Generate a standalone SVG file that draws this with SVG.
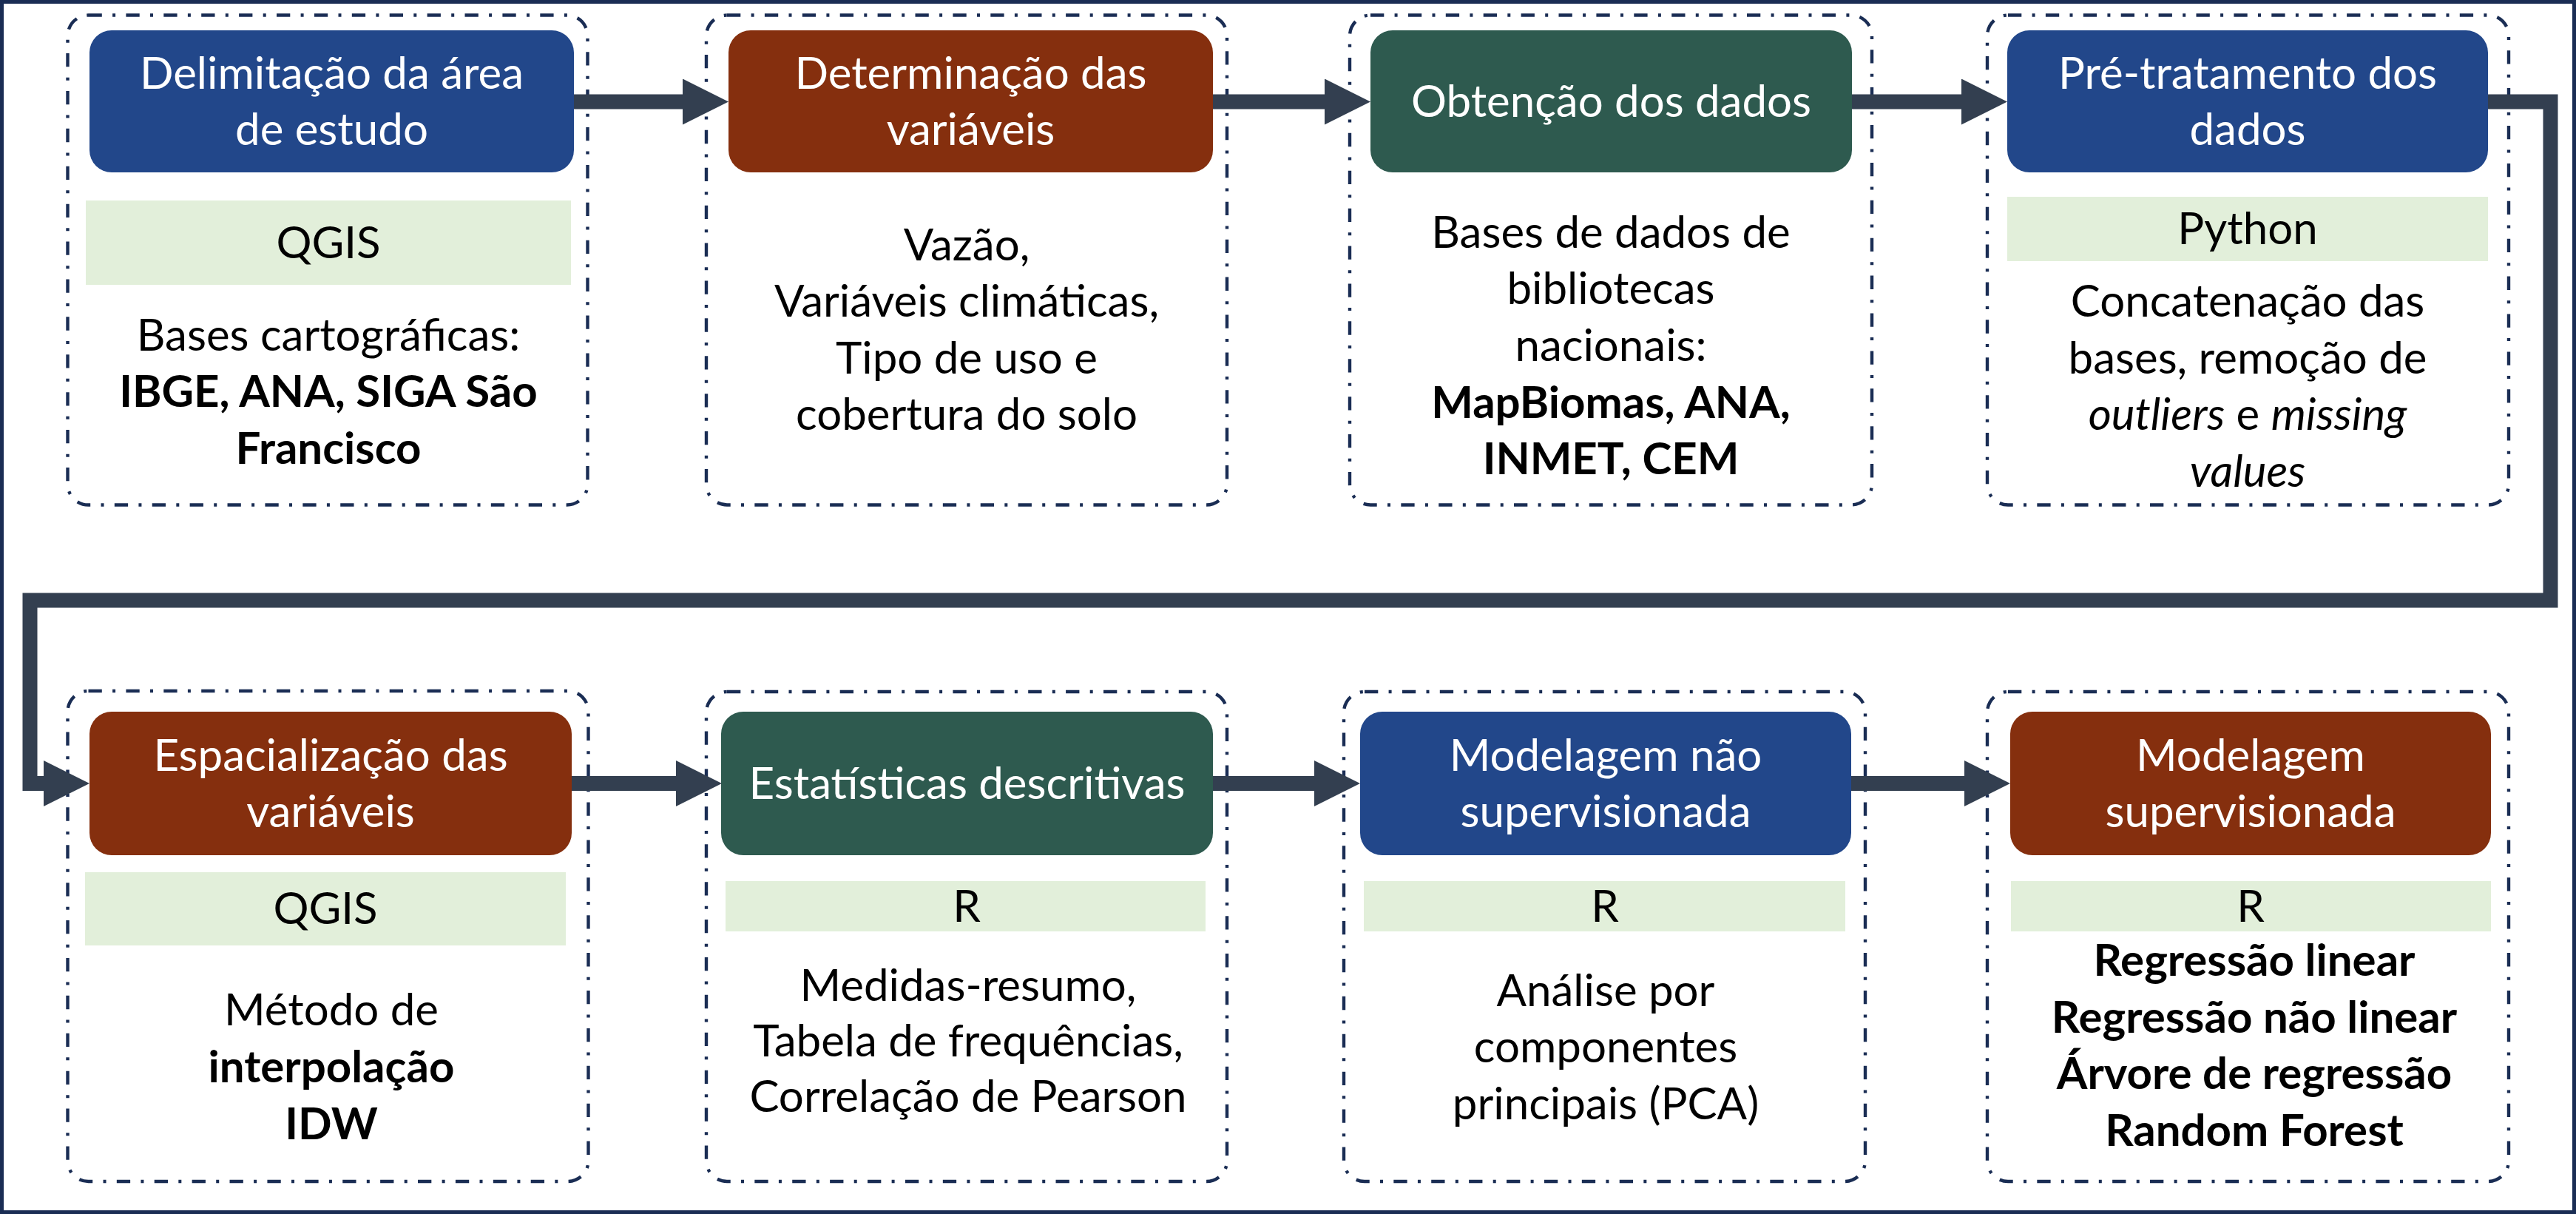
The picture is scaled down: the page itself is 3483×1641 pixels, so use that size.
<svg xmlns="http://www.w3.org/2000/svg" width="3483" height="1641" viewBox="0 0 3483 1641">
<style>
.frame{fill:#ffffff;stroke:#1A2D54;stroke-width:5}
.grp{fill:none;stroke:#1A2D54;stroke-width:4.4;stroke-dasharray:18.3 14.3 4 14.3}
.hb{fill:#22478A}
.hr{fill:#852F0E}
.hg{fill:#2E5A4F}
.band{fill:#E2EFDA}
text{font-family:Lato,"Liberation Sans",sans-serif;font-size:60px;text-anchor:middle;fill:#000000}
.ht{fill:#ffffff}
.b{font-weight:bold}
.i{font-style:italic}
.conn{fill:none;stroke:#333F50;stroke-width:20;stroke-linejoin:miter;marker-end:url(#ah)}
</style>
<defs>
<marker id="ah" markerUnits="userSpaceOnUse" markerWidth="62" markerHeight="62" viewBox="0 0 62 62" refX="0" refY="31" orient="auto">
<path d="M0 0L62 31L0 62z" fill="#333F50"/>
</marker>
</defs>
<rect class="frame" x="2.5" y="2.5" width="3478" height="1636"/>

<g id="n1">
<rect class="grp" x="91.5" y="20.5" width="703" height="662" rx="28"/>
<rect class="hb" x="121" y="41" width="655" height="192" rx="30"/>
<text class="ht" x="448.5" y="120">Delimitação da área</text>
<text class="ht" x="448.5" y="196">de estudo</text>
<rect class="band" x="116" y="271" width="656" height="114"/>
<text x="444" y="349">QGIS</text>
<text x="444" y="474">Bases cartográficas:</text>
<text class="b" x="444" y="550">IBGE, ANA, SIGA São</text>
<text class="b" x="444" y="627">Francisco</text>
</g>

<g id="n2">
<rect class="grp" x="955" y="20.5" width="704" height="662" rx="28"/>
<rect class="hr" x="985" y="41" width="655" height="192" rx="30"/>
<text class="ht" x="1312.5" y="120">Determinação das</text>
<text class="ht" x="1312.5" y="196">variáveis</text>
<text x="1307" y="352">Vazão,</text>
<text x="1307" y="428">Variáveis climáticas,</text>
<text x="1307" y="505">Tipo de uso e</text>
<text x="1307" y="581">cobertura do solo</text>
</g>

<g id="n3">
<rect class="grp" x="1825" y="20.5" width="706" height="662" rx="28"/>
<rect class="hg" x="1853" y="41" width="651" height="192" rx="30"/>
<text class="ht" x="2178.5" y="158">Obtenção dos dados</text>
<text x="2178" y="335">Bases de dados de</text>
<text x="2178" y="411">bibliotecas</text>
<text x="2178" y="488">nacionais:</text>
<text class="b" x="2178" y="565">MapBiomas, ANA,</text>
<text class="b" x="2178" y="641">INMET, CEM</text>
</g>

<g id="n4">
<rect class="grp" x="2687" y="20.5" width="705" height="662" rx="28"/>
<rect class="hb" x="2714" y="41" width="650" height="192" rx="30"/>
<text class="ht" x="3039" y="120">Pré-tratamento dos</text>
<text class="ht" x="3039" y="196">dados</text>
<rect class="band" x="2714" y="266" width="650" height="87"/>
<text x="3039" y="330">Python</text>
<text x="3039" y="428">Concatenação das</text>
<text x="3039" y="505">bases, remoção de</text>
<text x="3039" y="581"><tspan class="i">outliers</tspan> e <tspan class="i">missing</tspan></text>
<text class="i" x="3039" y="658">values</text>
</g>

<g id="n5">
<rect class="grp" x="91.5" y="934" width="704" height="663" rx="28"/>
<rect class="hr" x="121" y="962" width="652" height="194" rx="30"/>
<text class="ht" x="447" y="1042">Espacialização das</text>
<text class="ht" x="447" y="1118">variáveis</text>
<rect class="band" x="115" y="1179" width="650" height="99"/>
<text x="440" y="1249">QGIS</text>
<text x="448" y="1386">Método de</text>
<text class="b" x="448" y="1463">interpolação</text>
<text class="b" x="448" y="1540">IDW</text>
</g>

<g id="n6">
<rect class="grp" x="955" y="935" width="704" height="662" rx="28"/>
<rect class="hg" x="975" y="962" width="665" height="194" rx="30"/>
<text class="ht" x="1307.5" y="1080">Estatísticas descritivas</text>
<rect class="band" x="981" y="1191" width="649" height="68"/>
<text x="1307" y="1246">R</text>
<text x="1309" y="1353">Medidas-resumo,</text>
<text x="1309" y="1428">Tabela de frequências,</text>
<text x="1309" y="1503">Correlação de Pearson</text>
</g>

<g id="n7">
<rect class="grp" x="1817" y="935" width="705" height="662" rx="28"/>
<rect class="hb" x="1839" y="962" width="664" height="194" rx="30"/>
<text class="ht" x="2171" y="1042">Modelagem não</text>
<text class="ht" x="2171" y="1118">supervisionada</text>
<rect class="band" x="1844" y="1191" width="651" height="68"/>
<text x="2170" y="1246">R</text>
<text x="2171" y="1360">Análise por</text>
<text x="2171" y="1436">componentes</text>
<text x="2171" y="1513">principais (PCA)</text>
</g>

<g id="n8">
<rect class="grp" x="2687" y="935" width="705" height="662" rx="28"/>
<rect class="hr" x="2718" y="962" width="650" height="194" rx="30"/>
<text class="ht" x="3043" y="1042">Modelagem</text>
<text class="ht" x="3043" y="1118">supervisionada</text>
<rect class="band" x="2719" y="1191" width="649" height="68"/>
<text x="3043" y="1246">R</text>
<text class="b" x="3048" y="1319">Regressão linear</text>
<text class="b" x="3048" y="1396">Regressão não linear</text>
<text class="b" x="3048" y="1472">Árvore de regressão</text>
<text class="b" x="3048" y="1549">Random Forest</text>
</g>

<g id="connectors">
<path class="conn" d="M776 137.5H923"/>
<path class="conn" d="M1640 137.5H1791"/>
<path class="conn" d="M2504 137.5H2652"/>
<path class="conn" d="M3364 137.5H3448.5V811.5H40.5V1059H59"/>
<path class="conn" d="M773 1059H914"/>
<path class="conn" d="M1640 1059H1777"/>
<path class="conn" d="M2503 1059H2656"/>
</g>
</svg>
